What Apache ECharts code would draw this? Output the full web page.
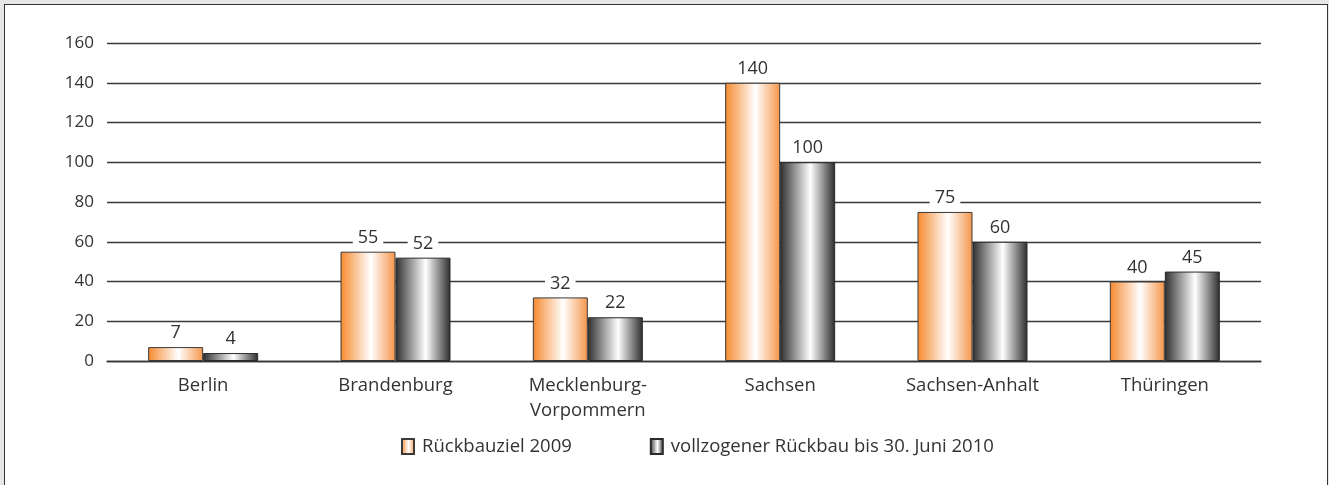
<!DOCTYPE html>
<html>
<head>
<meta charset="utf-8">
<script src="https://cdn.jsdelivr.net/npm/echarts@6/dist/echarts.min.js"></script>
<style>
  body { margin: 0; background: #e6e6e6; width: 1329px; height: 485px; overflow: hidden; position: relative; }
  .frame { position: absolute; left: 4px; top: 4px; width: 1322px; height: 500px; border: 1.5px solid #333; background: #fff; }
  .chart { position: absolute; left: 0; top: 0; width: 1329px; height: 485px; }
</style>
</head>
<body>
<div class="frame"></div>
<div class="chart" id="chart"></div>
<script>
// Länder
const categories = ['Berlin', 'Brandenburg', 'Mecklenburg-\nVorpommern', 'Sachsen', 'Sachsen-Anhalt', 'Thüringen']
const seriesNames = ['Rückbauziel 2009', 'vollzogener Rückbau bis 30. Juni 2010']
const ziel2009 = [7, 55, 32, 140, 75, 40]
const rueckbau2010 = [4, 52, 22, 100, 60, 45]
const yTicks = { min: 0, max: 160, interval: 20 }

const font = 'Open Sans'
const textColor = '#333'

function barGradient(edgeLeft, mid, edgeRight) {
  return new echarts.graphic.LinearGradient(0, 0, 1, 0, [
    { offset: 0, color: edgeLeft },
    { offset: 0.55, color: mid },
    { offset: 1, color: edgeRight }
  ])
}

let myChart = echarts.init(document.getElementById('chart'), null, { renderer: 'canvas' })
let labelStyle = {
  show: true,
  position: 'top',
  distance: 5,
  color: textColor,
  fontFamily: font,
  fontSize: 18,
  backgroundColor: '#fff',
  padding: [0, 5]
}
let option = {
  animation: false,
  textStyle: { fontFamily: font },
  grid: { left: 107, right: 68, top: 43, bottom: 124 },
  legend: {
    left: 396,
    top: 432,
    icon: 'rect',
    itemWidth: 12,
    itemHeight: 15,
    itemGap: 78,
    textStyle: { color: textColor, fontFamily: font, fontSize: 18.5, padding: [0, 0, 0, 3] },
    data: seriesNames
  },
  xAxis: {
    type: 'category',
    data: categories,
    axisLine: { lineStyle: { color: '#333', width: 1.3 } },
    axisTick: { length: 6, lineStyle: { color: '#333', width: 1.3 } },
    axisLabel: { color: textColor, fontFamily: font, fontSize: 18.5, margin: 12, lineHeight: 25 }
  },
  yAxis: {
    type: 'value',
    min: yTicks.min,
    max: yTicks.max,
    interval: yTicks.interval,
    axisLine: { show: false },
    axisTick: { show: false },
    axisLabel: { color: textColor, fontFamily: font, fontSize: 17, margin: 13 },
    splitLine: { lineStyle: { color: '#3a3a3a', width: 1.3 } }
  },
  series: [
    {
      name: seriesNames[0],
      type: 'bar',
      data: ziel2009,
      barWidth: 55,
      barGap: '0%',
      itemStyle: {
        color: barGradient('#f6892e', '#ffffff', '#f5954a'),
        borderColor: '#3a3a3a',
        borderWidth: 1
      },
      label: labelStyle
    },
    {
      name: seriesNames[1],
      type: 'bar',
      data: rueckbau2010,
      barWidth: 55,
      barGap: '0%',
      itemStyle: {
        color: barGradient('#2f2f2f', '#ffffff', '#2b2b2b'),
        borderColor: '#2a2a2a',
        borderWidth: 1
      },
      label: labelStyle
    }
  ]
}
myChart.setOption(option)
</script>
</body>
</html>
